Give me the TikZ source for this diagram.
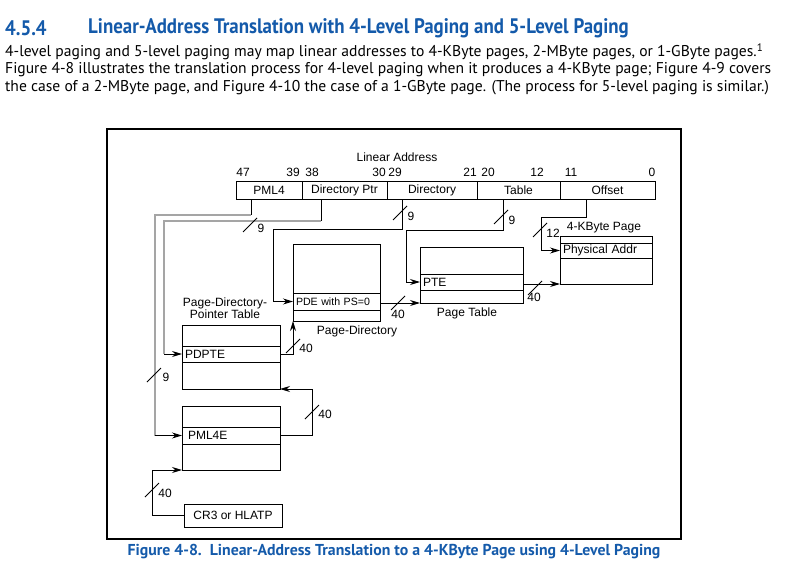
\documentclass[tikz,border=0pt]{standalone}
\usepackage{fontspec}
\setmainfont{Liberation Sans}
\newfontfamily\headfont[FakeStretch=0.9]{PT Sans}
\newfontfamily\capfont{PT Sans}
\newfontfamily\bodyfont{PT Sans}
\usetikzlibrary{arrows.meta,calc}
\definecolor{intelblue}{RGB}{20,90,170}
\definecolor{greyline}{RGB}{165,165,165}
\begin{document}
\begin{tikzpicture}[x=1pt,y=-1pt,
  dfont/.style={font=\fontsize{12}{13}\selectfont},
  lbl/.style={dfont, inner sep=0pt},
  box/.style={draw, line width=1pt, inner sep=0pt, outer sep=0pt, anchor=north west},
  field/.style={box, dfont, minimum height=18pt},
  rowbox/.style={box, dfont, inner xsep=3pt, align=left},
  conn/.style={draw, line width=0.9pt},
  arr/.style={conn, -{Stealth[length=10pt,width=6pt]}},
  greyc/.style={draw=greyline, line width=1.4pt},
  slash/.pic={\draw[line width=0.8pt] (-7,7) -- (7,-7);},
  body/.style={anchor=west, inner sep=0pt, font=\bodyfont\fontsize{15.6}{17}\selectfont},
]
\useasboundingbox (0,0) rectangle (800,578);

% heading and text
\node[anchor=west, inner sep=0pt, text=intelblue, font=\headfont\bfseries\fontsize{21}{23}\selectfont] (hnum) at (5,28) {4.5.4};
\node[anchor=west, inner sep=0pt, text=intelblue, font=\headfont\bfseries\fontsize{21}{23}\selectfont] (htitle) at (88,28) {Linear-Address Translation with 4-Level Paging and 5-Level Paging};
\node[body] (t1) at (5,52) {4-level paging and 5-level paging may map linear addresses to 4-KByte pages, 2-MByte pages, or 1-GByte pages.\textsuperscript{1}};
\node[body] (t2) at (5,70) {Figure 4-8 illustrates the translation process for 4-level paging when it produces a 4-KByte page; Figure 4-9 covers};
\node[body] (t3) at (5,88) {the case of a 2-MByte page, and Figure 4-10 the case of a 1-GByte page. (The process for 5-level paging is similar.)};

% frame
\node[box, line width=1.2pt, minimum width=574pt, minimum height=410pt] (frame) at (107,129) {};

% caption
\node[inner sep=0pt, text=intelblue, font=\capfont\bfseries\fontsize{15.8}{17}\selectfont] (cap) at (394,552) {Figure 4-8.\ \ Linear-Address Translation to a 4-KByte Page using 4-Level Paging};

% linear address
\node[lbl] (la) at (397,157) {Linear Address};
\node[field, minimum width=66pt] (f1) at (236,181) {PML4};
\node[field, minimum width=85pt] (f2) at (302,181) {Directory Ptr};
\node[field, minimum width=90pt] (f3) at (387,181) {Directory};
\node[field, minimum width=83pt] (f4) at (477,181) {Table};
\node[field, minimum width=95pt] (f5) at (560,181) {Offset};
\foreach \t/\x [count=\i] in {47/243,39/293,38/312,30/379,29/395,21/470,20/488,12/537,11/571,0/652}
  \node[lbl] (b\i) at (\x,172) {\t};

% tables
\node[box, minimum width=87pt, minimum height=77pt] (pd) at (293,244) {};
\node[rowbox, minimum width=87pt, minimum height=17pt, text width=81pt, font=\fontsize{10.6}{12}\selectfont] (pde) at (293,293) {PDE with PS=0};
\node[lbl] (pdl) at (357,331) {Page-Directory};

\node[box, minimum width=103pt, minimum height=56pt] (pt) at (420,247) {};
\node[rowbox, minimum width=103pt, minimum height=16pt, text width=97pt] (pte) at (420,274) {PTE};
\node[lbl] (ptl) at (467,313) {Page Table};

\node[box, minimum width=92pt, minimum height=48pt] (pg) at (560,236) {};
\node[rowbox, minimum width=92pt, minimum height=15pt, text width=86pt] (phys) at (560,243) {Physical Addr};
\node[lbl] (pgl) at (604,228) {4-KByte Page};

\node[box, minimum width=98pt, minimum height=64pt] (pdpt) at (182,325) {};
\node[rowbox, minimum width=98pt, minimum height=16pt, text width=92pt] (pdpte) at (182,346) {PDPTE};
\node[lbl, align=center, font=\fontsize{12}{10}\selectfont] (pdptl) at (225,308) {Page-Directory-\\Pointer Table};

\node[box, minimum width=98pt, minimum height=64pt] (pml) at (182,406) {};
\node[rowbox, minimum width=98pt, minimum height=17pt, text width=86pt, inner xsep=6pt] (pmle) at (182,427) {PML4E};

\node[box, dfont, minimum width=98pt, minimum height=23pt] (cr3) at (184,504) {CR3 or HLATP};

% connectors
\coordinate (c1) at (251,199);
\coordinate (c1a) at (251,215);
\coordinate (c1b) at (155,435.5);
\draw[conn] (c1) -- (c1a);
\draw[greyc] (c1a) -| (c1b);
\draw[arr] (c1b) -- (pmle.west);

\coordinate (c2) at (321,199);
\coordinate (c2a) at (321,221);
\coordinate (c2b) at (164,354);
\draw[conn] (c2) -- (c2a);
\draw[greyc] (c2a) -| (c2b);
\draw[arr] (c2b) -- (pdpte.west);

\coordinate (c3) at (402,199);
\coordinate (c3a) at (402,229);
\coordinate (c3b) at (273,301.5);
\draw[arr] (c3) -- (c3a) -| (c3b) -- (pde.west);

\coordinate (c4) at (503,199);
\coordinate (c4a) at (503,230);
\coordinate (c4b) at (406,282);
\draw[arr] (c4) -- (c4a) -| (c4b) -- (pte.west);

\coordinate (c5) at (586,199);
\coordinate (c5a) at (586,217);
\coordinate (c5b) at (541,250.5);
\draw[arr] (c5) -- (c5a) -| (c5b) -- (phys.west);

\draw[arr] (cr3.west) -- ++(-32,0) |- (pml.south west);
\draw[arr] (pmle.east) -- ++(32,0) |- (pdpt.south east);
\draw[arr] (pdpte.east) -| (pd.south west);
\draw[arr] (pde.east |- pt.south west) -- (pt.south west);
\draw[arr] (pte.east |- pg.south west) -- (pg.south west);

% width marks
\foreach \x/\y/\lx/\ly/\t [count=\i] in {
  250/225/261/228/9, 154/375/166/377/9, 400/213/411/216/9, 501/217/512/220/9,
  540/230/553/233/12, 398/303/398/314/40, 535/288/534/297/40, 293/346/306/348/40,
  312/412/325/414/40, 152/490/165/493/40}
{
  \pic at (\x,\y) {slash};
  \node[lbl] (w\i) at (\lx,\ly) {\t};
}
\end{tikzpicture}
\end{document}
